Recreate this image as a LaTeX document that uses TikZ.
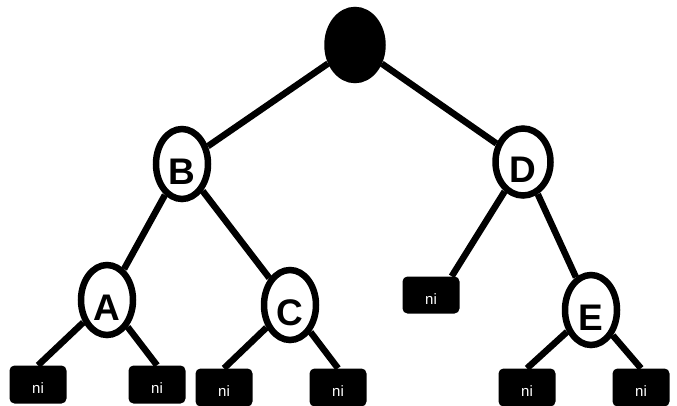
\documentclass[tikz,border=0pt]{standalone}
\usepackage{fontspec}
\setmainfont{Liberation Sans}
\usetikzlibrary{shapes.geometric}
\tikzset{
  treenode/.style={ellipse, draw=black, fill=white, line width=6.5pt, minimum width=52pt, minimum height=70pt, inner sep=0pt, font=\fontsize{37}{37}\selectfont\bfseries, text height=40pt, text depth=0pt},
  rootnode/.style={treenode, fill=black, minimum width=55pt},
  nibox/.style={rectangle, rounded corners=5pt, fill=black, text=white, minimum width=57pt, minimum height=38pt, inner sep=0pt, font=\fontsize{15}{15}\selectfont, text height=18pt, text depth=0pt},
  branch/.style={line width=6.5pt}
}

\begin{document}
\begin{tikzpicture}[x=1pt, y=-1pt]
		%%%%% START %%%%%
		\useasboundingbox (0, 0) rectangle (677, 405);
		
		\node[rootnode] (root) at (355, 45) {};
		
		\node[treenode] (B) at (182, 164) {B};
		\node[treenode, minimum width=55pt, minimum height=67pt] (D) at (523, 162) {D};
		
		\node[treenode] (A) at (107, 300) {A};
		\node[treenode] (C) at (290, 305) {C};
		\node[treenode] (E) at (591, 310) {E};
		
		\node[nibox] (niA1) at (38, 384.5) {ni};
		\node[nibox] (niA2) at (157, 384.5) {ni};
		\node[nibox] (niC1) at (224, 387.5) {ni};
		\node[nibox] (niC2) at (338, 387.5) {ni};
		\node[nibox, minimum height=37pt] (niD) at (431, 295) {ni};
		\node[nibox] (niE1) at (527, 387.5) {ni};
		\node[nibox] (niE2) at (641, 387.5) {ni};
		
		\draw[branch] (root) -- (B);
		\draw[branch] (root) -- (D);
		\draw[branch] (B) -- (A);
		\draw[branch] (B) -- (C);
		\draw[branch] (D) -- ([xshift=-8pt]niD.north east);
		\draw[branch] (D) -- (E);
		
		\draw[branch] (A) -- (niA1.north);
		\draw[branch] (A) -- (niA2.north);
		\draw[branch] (C) -- (niC1.north);
		\draw[branch] (C) -- (niC2.north);
		\draw[branch] (E) -- (niE1.north);
		\draw[branch] (E) -- (niE2.north);
		
		%%%%% END %%%%%
	\end{tikzpicture}
\end{document}
